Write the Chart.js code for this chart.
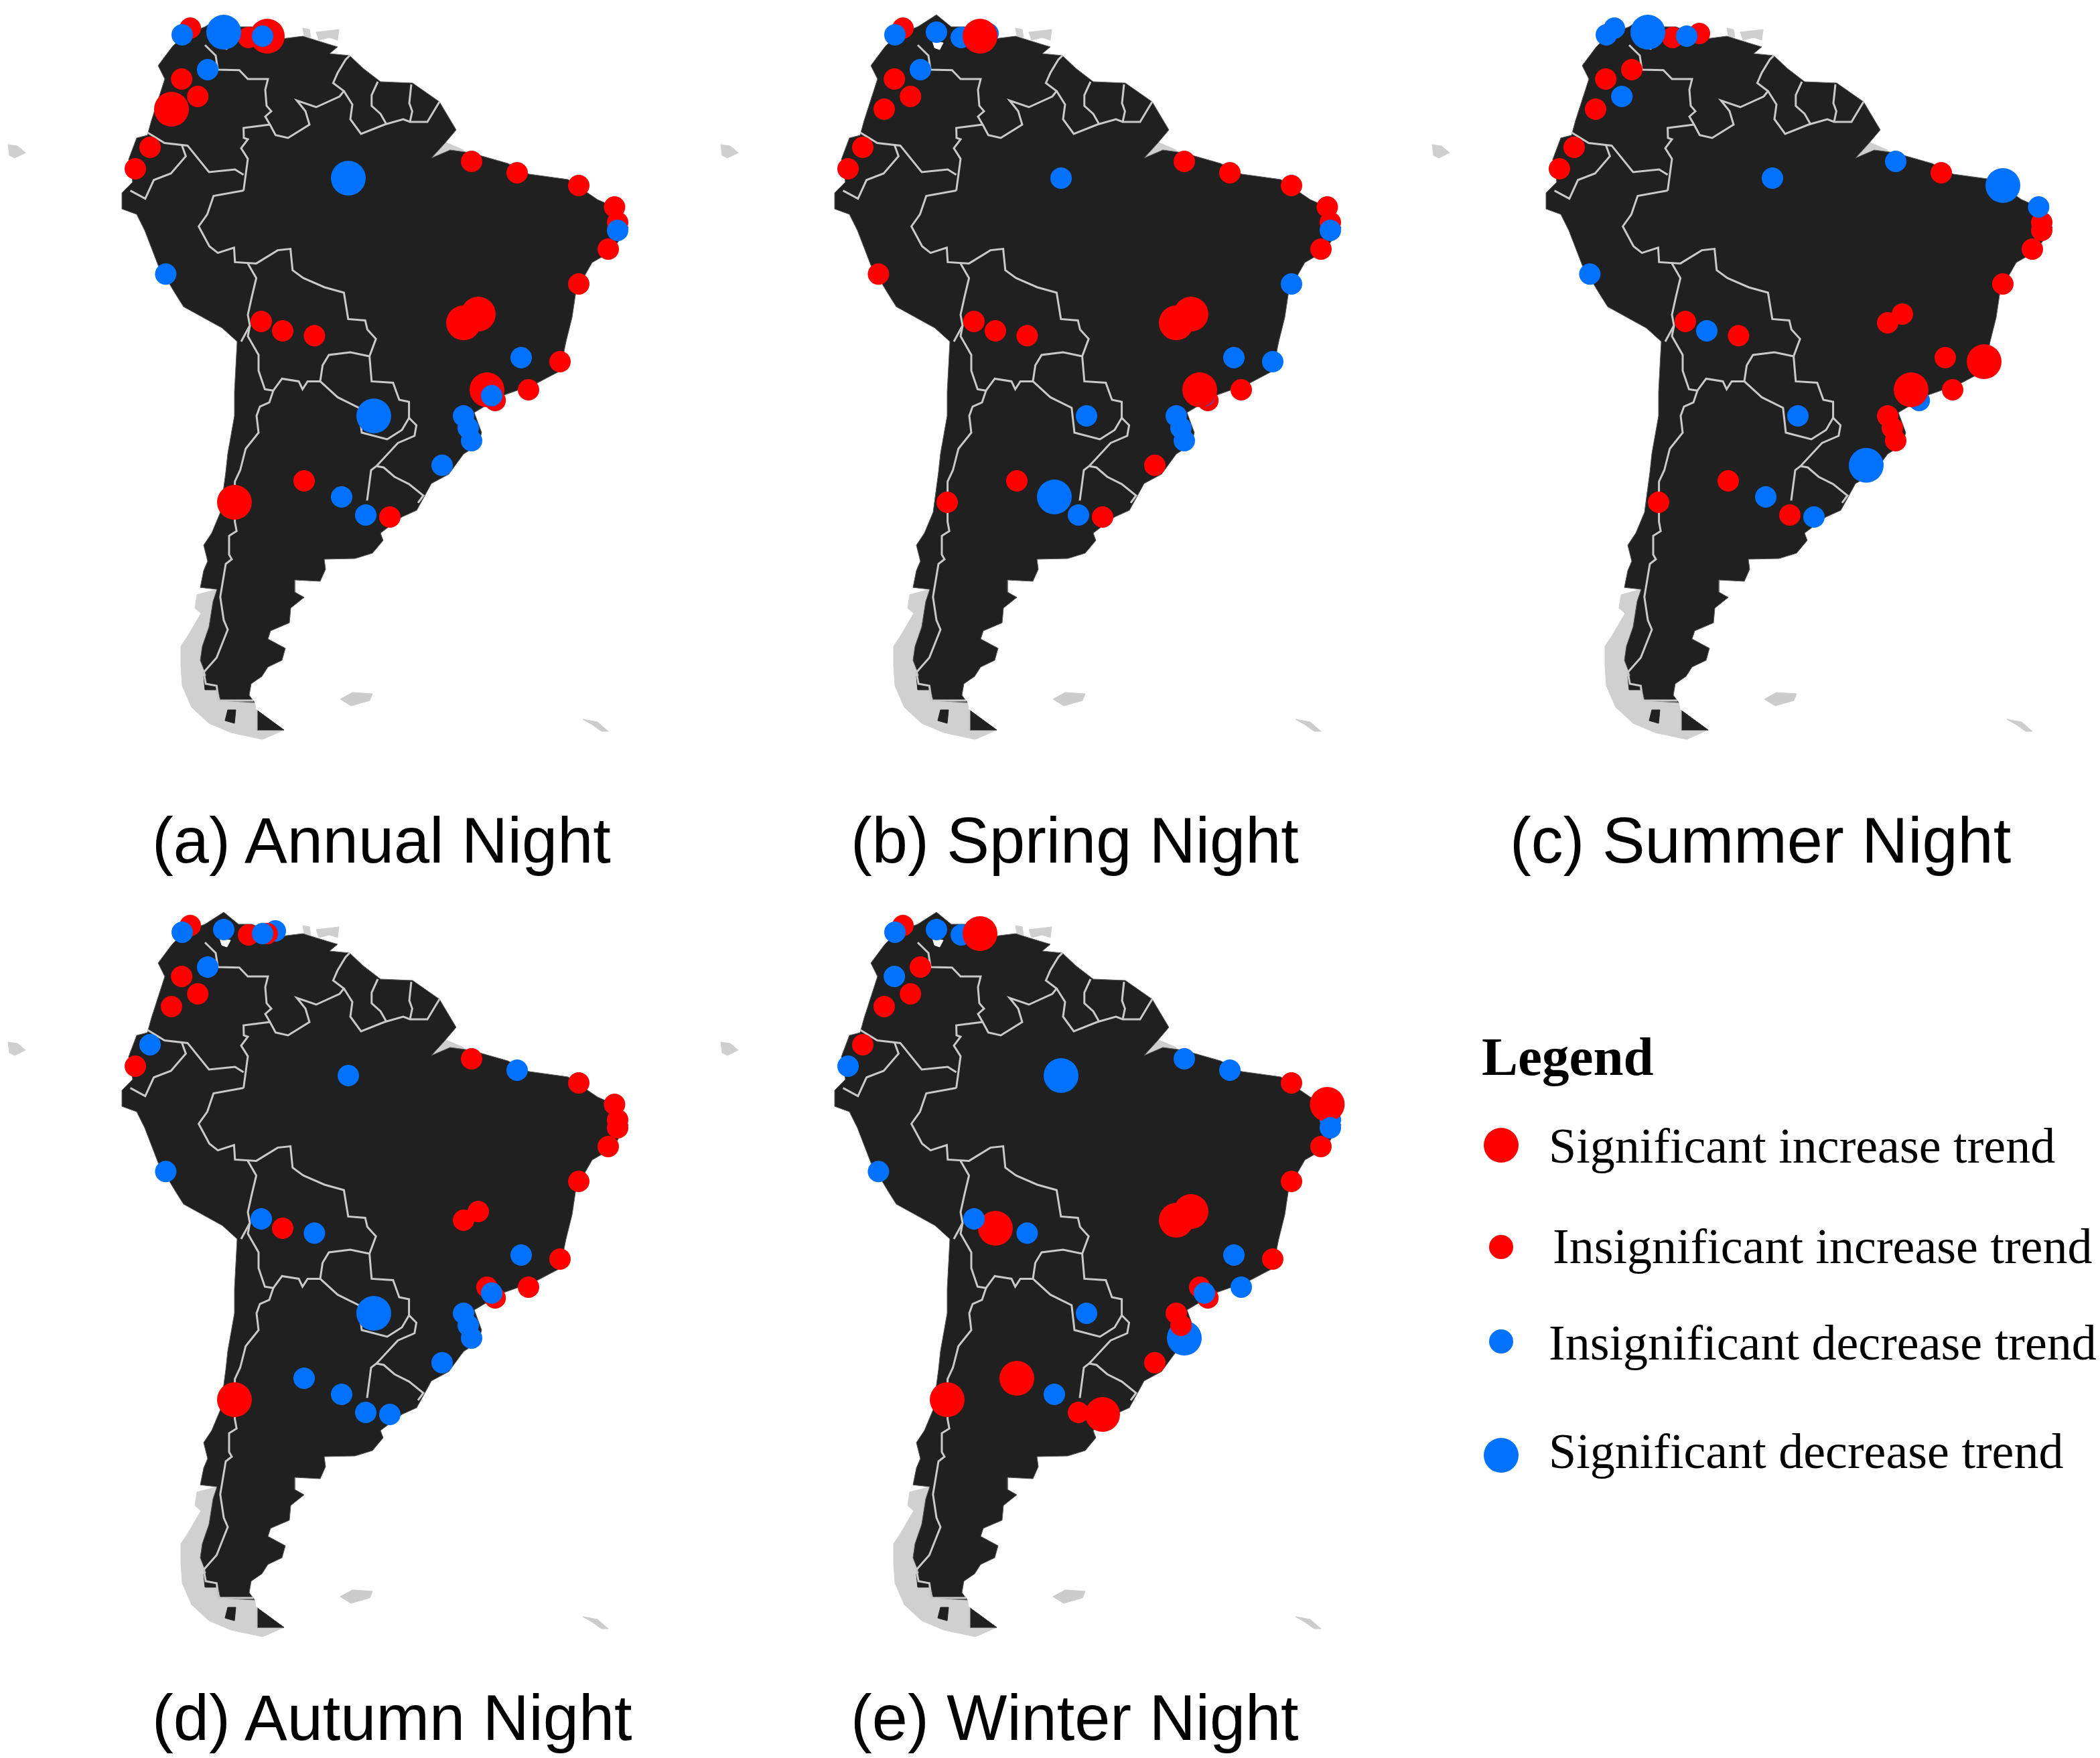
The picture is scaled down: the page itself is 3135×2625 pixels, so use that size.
<!DOCTYPE html>
<html>
<head>
<meta charset="utf-8">
<script src="https://cdn.jsdelivr.net/npm/chart.js@4/dist/chart.umd.min.js"></script>
<style>
html,body{margin:0;padding:0;background:#fff;width:3135px;height:2625px;overflow:hidden}
canvas{position:absolute;display:block}
.t{position:absolute;white-space:pre;color:#000;line-height:1}
.title{font-family:"Liberation Sans",Arial,sans-serif;font-size:95.5px}
.lg{font-family:"Liberation Serif","Times New Roman",serif;font-size:74px}
.lgh{font-family:"Liberation Serif","Times New Roman",serif;font-size:81px;font-weight:bold}
</style>
</head>
<body>
<script>
// ---- map geometry, in map units (shared by all five panels) ----
const coastline = [[167,11],[178,20],[188,20],[210,29],[226,27],[242,32],[252,35],[246,40],[261,41.5],[271,51],[284,61],[308,62],[328,76],[340.5,97],[332,107],[322,118],[336,112],[351,114],[379,122],[395,130],[424,134],[446,149],[462,156],[469,170],[456,188],[442,196],[430,217],[427,237],[422.5,255],[418,277],[399,287],[376,295],[354,308],[359.5,323],[357,332],[346,339],[335,354],[322,361],[316,372],[311,381],[300,386],[284,398],[286,403.5],[278,413],[265,417],[242,417.5],[243,425],[239,434],[220,433],[220,442],[227,446],[217,454],[216,465],[202,471],[200,477],[213,484],[210.5,493],[200,498],[195.5,505],[187.5,510.5],[186,519],[190,524.5],[164.5,523],[162,512],[153.6,511],[153.6,503.5],[149.5,493],[151,482.5],[156,468],[159,449],[162,440],[149.5,438.6],[152,426],[155,419],[152,407],[158,398],[164.5,382.5],[168.5,352.6],[170,338.6],[175,310.5],[175,292.6],[177,255],[166,245],[137,229],[131,219.5],[118,198],[108,172],[102,160],[91,156],[91,144],[99,136],[96,119],[102,103],[110,101],[113,90],[123,59],[118,49],[128,35.6],[137,26],[153,20]];
const patagoniaIslands = [[147,444],[162,440],[166,520],[190,524],[192,535],[212,545],[196,552],[172.5,547],[156,540],[143,528],[136,512],[135,496.5],[135,482.5],[140,475],[150,458],[145.5,454]];
const fuegoDark = [[191.5,530],[212,545],[192,545]];
const fjordDark = [[152,505],[162,505],[162,515],[153,515]];
const fjordDark2 = [[170,530],[176,530],[175,540],[168,538]];
const falklands = [[254,522],[263,517],[278,518],[276,523],[262,527]];
const southGeorgia = [[435,537],[446,539],[454,546],[449,546],[442,541]];
const galapagos = [[6,108],[13,109],[19,114],[11,118],[7,116]];
const trinidadWest = [[226,21],[231,22],[232,28],[227,27]];
const trinidadEast = [[236,24],[253,22],[252,30],[246,28],[238,30]];
const amazonDelta = [[319,122],[332,106],[346,112],[345,129],[330,128]];
const lakeMaracaibo = [[164,30.6],[172,32],[169.4,37],[165.6,35.7]];
const borders = [
 [[153,33.6],[161,41.5],[162.6,52],[178.6,52.4],[185,59],[200,59],[198,67],[199,79],[202.5,83],[198,87],[201.5,93],[205.7,100.8],[215,103],[231,93],[228,83],[221.6,75],[236,80],[253.5,72],[256.7,68],[248.7,62],[252,54.4],[258,44.5],[261,41.5]],
 [[256.7,68],[263,78],[261.5,89],[269.5,100],[287,93],[301,89],[306,91],[319,91],[328,76]],
 [[282,61],[277.4,71],[277.4,79],[284,85],[288.6,93]],
 [[307,63],[305.5,77],[307.7,83],[306,91]],
 [[201.5,93],[181.8,95.5],[182,103],[185,104],[180,110.7],[185,118.6],[181.8,142.3]],
 [[181.8,130.5],[175.4,126.5],[156,128.5],[140,108.7],[122.8,106.8],[110,98.9]],
 [[135.5,107.7],[138.7,116.6],[127.6,129.5],[114.8,134.4],[108.4,148.3],[97.3,142.3]],
 [[181.8,142.3],[159.4,146.3],[154.7,160],[148.3,169],[156.3,183.9],[162.6,188.8],[174.7,184.9],[175.4,195.7],[191.3,196.7],[207.3,186.8],[216.8,185.8],[218.4,201.7],[226.4,207.6],[242.3,214.5],[256.7,218.5],[259.9,238.2],[272.6,239.2],[274.2,246],[280.6,253],[275.8,266]],
 [[185,196.7],[191.3,207.6],[188,221.4],[185,235],[186.5,243],[180,255]],
 [[186.5,243.2],[185,251],[193,265],[193,276.8],[197.7,290.6],[204,291.6],[201,300.5],[194,303.5],[191.5,310.5],[193,323],[183.4,335],[179.3,351],[175.3,359.6],[175.3,389.5],[176.6,396.5],[171,400],[171,414],[173,417.5],[168.5,421],[164.4,445.6],[167,463],[170,470],[161.7,491],[152,502],[153.6,510.5],[161.7,512],[163,523],[189,523]],
 [[204,291.6],[210.5,282.7],[223,284.7],[225.8,290.6],[229.6,284.7],[239,284.7],[240.8,272.8],[245.5,265],[261.5,263],[275.8,266],[277.4,284.7],[293.4,285.7],[298,298.5],[305.3,300],[305.3,312]],
 [[239,284.7],[252,296.6],[267.9,304.5],[270,323],[289,328],[300,321],[305.3,312],[310.8,317.5],[309.4,325.4],[297,330.7],[281,348],[277,351],[274,373.7]],
 [[281,348],[286.4,349],[294.5,356],[305.3,361.4],[316,370],[312,375.4]],
 [[191.5,530],[191.5,545]]
];

// ---- stations ----
const stationX = [142,136,167,185.5,196,199.5,205.5,155,135.6,147.6,128,112,101,260,352,386,432,458.7,461,461,454,432,123.7,357,346,195,211,234.7,389,418,394.5,363.5,369.6,367,346,349.5,352,330,279,227,175,255,273,291];
const stationY = [21,26,24,28,27,27,25,52,59,72,81.5,110,126,133,120.5,129,138.5,154.5,166,172,186,212,204.6,234.5,241,240,247,250.6,267,270,291,291,299,295.4,310.5,319.5,329,347.4,310.5,359,375,371,384.5,386];
const SI='SI', II='II', ID='ID', SD='SD', NA=null;
const annualTrend = [II,ID,SD,II,ID,SI,NA,ID,II,II,SI,II,II,SD,II,II,II,II,II,ID,II,II,ID,SI,SI,II,II,II,ID,II,II,SI,II,ID,ID,ID,ID,ID,SD,II,SI,ID,ID,II];
const springTrend = [II,ID,ID,ID,ID,SI,ID,ID,II,II,II,II,II,ID,II,II,II,II,II,ID,II,ID,II,SI,SI,II,II,II,ID,ID,II,SI,II,ID,ID,ID,ID,II,ID,II,II,SD,ID,II];
const summerTrend = [ID,ID,SD,II,ID,NA,II,II,II,ID,II,II,II,ID,ID,II,SD,ID,II,II,II,II,ID,II,II,II,ID,II,II,SI,II,SI,ID,NA,II,II,II,SD,ID,II,II,ID,II,ID];
const autumnTrend = [II,ID,ID,II,ID,II,ID,ID,II,II,II,ID,II,ID,II,ID,II,II,II,II,II,II,ID,II,II,ID,II,ID,ID,II,II,II,II,ID,ID,ID,ID,ID,SD,ID,SI,ID,ID,ID];
const winterTrend = [II,ID,ID,ID,NA,SI,NA,II,ID,II,II,II,ID,SD,ID,ID,II,SI,ID,ID,II,II,ID,SI,SI,ID,SI,ID,ID,II,ID,II,II,ID,II,II,SD,II,ID,SI,SI,ID,II,SI];

const trendCodes = [SI,II,ID,SD];
const trendLabels = ['Significant increase trend','Insignificant increase trend','Insignificant decrease trend','Significant decrease trend'];
const legendRows = [0,152,293,463];
const legendTextTops = [1674,1824,1968,2130];
const legendTextLefts = [2312,2318,2312,2312];
const panelTitles = ['(a) Annual Night','(b) Spring Night','(c) Summer Night','(d) Autumn Night','(e) Winter Night'];

// ---- styles ----
const colors = {SI:'#ff0000',II:'#ff0000',ID:'#0072ff',SD:'#0072ff'};
const radii  = {SI:26,II:16,ID:16,SD:26};
const legendRadii = {SI:26,II:18,ID:18,SD:26};
const panels = [
 {trend:annualTrend, order:[SI,II,ID,SD], front:[],     left:0,    top:0,    tx:227,  ty:1208},
 {trend:springTrend, order:[II,ID,SD,SI], front:[],     left:1064, top:0,    tx:1270, ty:1208},
 {trend:summerTrend, order:[II,ID,SD,SI], front:[],     left:2126, top:0,    tx:2254, ty:1208},
 {trend:autumnTrend, order:[II,ID,SD,SI], front:[5,4],  left:0,    top:1340, tx:227,  ty:2518},
 {trend:winterTrend, order:[SD,II,ID,SI], front:[25,19],left:1064, top:1340, tx:1270, ty:2518}
];

const pts = a => a.map(p => ({x:p[0],y:p[1]}));
const poly = (a,fill,stroke) => ({type:'scatter',showLine:true,data:pts(a.concat([a[0]])),fill:'shape',backgroundColor:fill,borderColor:stroke||fill,borderWidth:1,pointRadius:0,tension:0});

function addCanvas(left,top,w,h){
  const c=document.createElement('canvas');
  c.width=w;c.height=h;c.style.left=left+'px';c.style.top=top+'px';c.style.width=w+'px';c.style.height=h+'px';
  document.body.appendChild(c);return c;
}
function addText(txt,cls,left,top){
  const d=document.createElement('div');d.className='t '+cls;d.textContent=txt;d.style.left=left+'px';d.style.top=top+'px';document.body.appendChild(d);
}
const baseOpts = {responsive:false,devicePixelRatio:1,animation:false,events:[],layout:{padding:0,autoPadding:false},
  plugins:{legend:{display:false},tooltip:{enabled:false}}};

panels.forEach((p,pi)=>{
  const ds=[
    poly(patagoniaIslands,'#d0d0d0'),
    poly(falklands,'#cccccc'),poly(southGeorgia,'#cccccc'),poly(galapagos,'#cfcfcf'),
    poly(trinidadWest,'#cfcfcf'),poly(trinidadEast,'#cfcfcf'),poly(amazonDelta,'#cfcfcf'),
    poly(coastline,'#202020','#5a5a5a'),
    poly(lakeMaracaibo,'#ffffff'),
    poly(fuegoDark,'#202020'),poly(fjordDark,'#202020'),poly(fjordDark2,'#202020')
  ];
  borders.forEach(b=>ds.push({type:'scatter',showLine:true,data:pts(b),borderColor:'#c9c9c9',borderWidth:3,pointRadius:0,fill:false,tension:0}));
  p.order.forEach(code=>{
    const data=[];
    p.trend.forEach((t,i)=>{ if(t===code && !p.front.includes(i)) data.push({x:stationX[i],y:stationY[i]}); });
    ds.push({type:'scatter',label:trendLabels[trendCodes.indexOf(code)],data,pointRadius:radii[code],pointBackgroundColor:colors[code],pointBorderWidth:0,showLine:false,clip:false});
  });
  p.front.forEach(i=>{
    const code=p.trend[i];
    ds.push({type:'scatter',data:[{x:stationX[i],y:stationY[i]}],pointRadius:radii[code],pointBackgroundColor:colors[code],pointBorderWidth:0,showLine:false,clip:false});
  });
  ds.reverse();
  new Chart(addCanvas(p.left,p.top,1000,1120),{type:'scatter',data:{datasets:ds},options:Object.assign({},baseOpts,{
    scales:{x:{type:'linear',display:false,min:0,max:500},y:{type:'linear',display:false,min:0,max:560,reverse:true}}
  })});
  addText(panelTitles[pi],'title',p.tx,p.ty);
});

// legend
addText('Legend','lgh',2212,1538);
trendLabels.forEach((l,i)=>addText(l,'lg',legendTextLefts[i],legendTextTops[i]));
new Chart(addCanvas(2201,1670,80,550),{type:'scatter',data:{datasets:trendCodes.map((code,i)=>({
  label:trendLabels[i],data:[{x:0,y:legendRows[i]}],pointRadius:legendRadii[code],pointBackgroundColor:colors[code],pointBorderWidth:0,clip:false
}))},options:Object.assign({},baseOpts,{
  scales:{x:{type:'linear',display:false,min:-40,max:40},y:{type:'linear',display:false,min:-40,max:510,reverse:true}}
})});
</script>
</body>
</html>
